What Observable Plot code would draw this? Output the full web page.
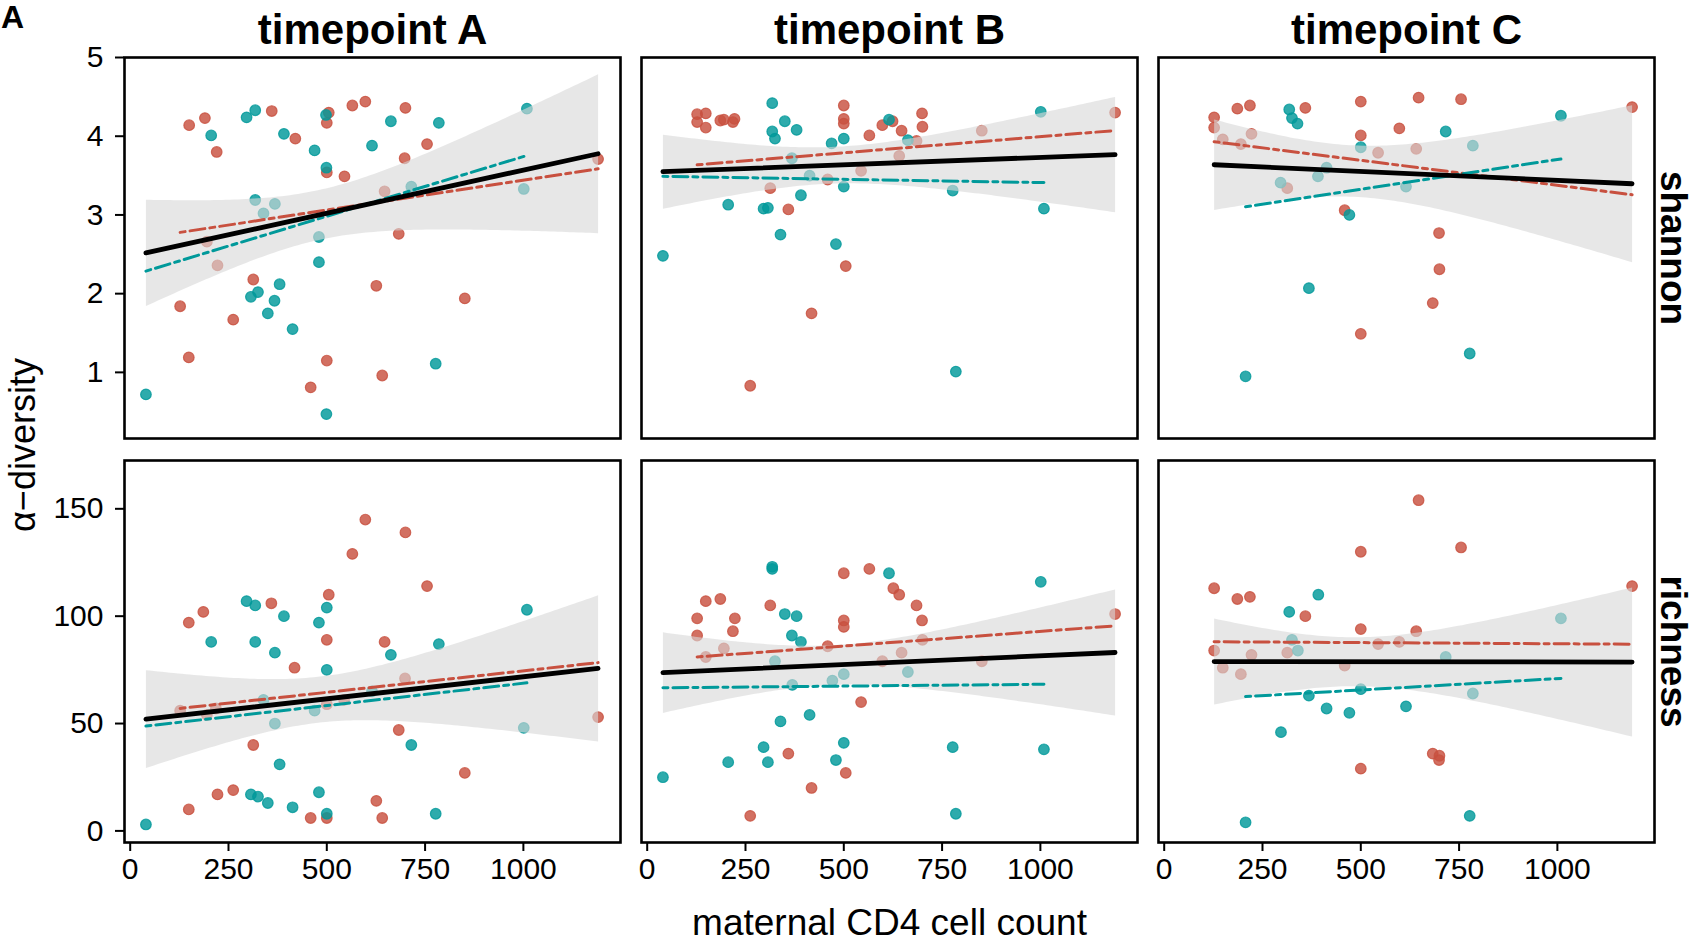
<!DOCTYPE html>
<html>
<head>
<meta charset="utf-8">
<script src="https://cdn.jsdelivr.net/npm/d3@7"></script>
<script src="https://cdn.jsdelivr.net/npm/@observablehq/plot@0.6"></script>
<style>
  body { margin: 0; background: #fff; }
  #wrap { position: relative; width: 1696px; height: 944px; overflow: hidden; font-family: "Liberation Sans", Arial, Helvetica, sans-serif; }
  #top, #bottom { position: absolute; left: 0; }
  #top { top: 0; }
  #bottom { top: 440px; }
  #over { position: absolute; left: 0; top: 0; pointer-events: none; }
</style>
</head>
<body>
<div id="wrap">
  <div id="top"></div>
  <div id="bottom"></div>
  <svg id="over" width="1696" height="944" font-family="Liberation Sans, Arial, Helvetica, sans-serif">
    <text x="1" y="28" font-size="32" font-weight="bold">A</text>
    <text transform="translate(35,445) rotate(-90)" text-anchor="middle" font-size="36">α−diversity</text>
  </svg>
</div>
<script>
// ---- categories ----
const timepoints = ["timepoint A", "timepoint B", "timepoint C"];
const groups = ["group 1", "group 2"];          // red, teal
const groupColors = ["#c8503f", "#00999a"];
const xTicks = [0, 250, 500, 750, 1000];
const shannonTicks = [1, 2, 3, 4, 5];
const richnessTicks = [0, 50, 100, 150];
const xLabel = "maternal CD4 cell count";

// ---- shannon: [maternal CD4, value] ----
const shannonA_g1 = [[150,4.14],[190,4.23],[220,3.80],[360,4.32],[420,3.97],[500,4.17],[505,4.30],[500,3.54],[545,3.49],[565,4.39],[598,4.44],[700,4.36],[698,3.72],[755,3.90],[647,3.30],[683,2.76],[1190,3.71],[195,2.66],[222,2.36],[313,2.18],[127,1.84],[626,2.10],[851,1.94],[262,1.67],[149,1.19],[500,1.15],[641,0.96],[459,0.81]];
const shannonA_g2 = [[40,0.72],[206,4.01],[296,4.24],[318,4.33],[391,4.03],[469,3.82],[498,4.27],[499,3.60],[615,3.88],[663,4.19],[785,4.17],[1009,4.35],[1001,3.33],[715,3.36],[318,3.19],[339,3.02],[368,3.14],[480,2.72],[480,2.40],[380,2.12],[307,1.96],[325,2.02],[367,1.91],[350,1.75],[413,1.55],[777,1.11],[499,0.47]];
const shannonB_g1 = [[127,4.28],[149,4.29],[127,4.18],[149,4.11],[186,4.20],[195,4.21],[222,4.22],[218,4.18],[500,4.39],[500,4.22],[500,4.16],[598,4.14],[624,4.19],[647,4.07],[699,4.29],[700,4.12],[565,4.01],[685,3.94],[851,4.07],[1190,4.30],[641,3.75],[544,3.56],[459,3.45],[313,3.34],[359,3.07],[505,2.35],[418,1.75],[262,0.83]];
const shannonB_g2 = [[40,2.48],[206,3.13],[296,3.08],[307,3.09],[318,4.42],[318,4.06],[325,3.97],[350,4.19],[380,4.08],[368,3.72],[413,3.50],[391,3.25],[339,2.75],[469,3.91],[500,3.97],[500,3.36],[480,2.63],[615,4.21],[663,3.95],[777,3.31],[785,1.01],[1001,4.31],[1009,3.08]];
const shannonC_g1 = [[127,4.24],[127,4.11],[149,3.96],[186,4.35],[218,4.39],[195,3.90],[222,4.03],[359,4.36],[313,3.34],[500,4.44],[500,4.01],[459,3.06],[544,3.79],[598,4.10],[647,4.49],[641,3.84],[755,4.47],[1190,4.37],[699,2.77],[700,2.31],[683,1.88],[500,1.49]];
const shannonC_g2 = [[318,4.34],[325,4.23],[339,4.16],[500,3.86],[413,3.60],[391,3.49],[296,3.41],[615,3.36],[716,4.06],[785,3.88],[1009,4.26],[471,3.00],[368,2.07],[777,1.24],[207,0.95]];

// ---- richness: [maternal CD4, value] ----
const richnessA_g1 = [[598,145],[700,139],[565,129],[755,114],[505,110],[359,106],[186,102],[149,97],[500,89],[647,88],[418,76],[699,71],[544,61],[500,59],[218,57],[127,56],[195,54],[1190,53],[683,47],[313,40],[851,27],[262,19],[222,17],[149,10],[626,14],[459,6],[500,6],[641,6]];
const richnessA_g2 = [[40,3],[296,107],[318,105],[391,100],[500,104],[480,97],[206,88],[318,88],[368,83],[500,75],[663,82],[785,87],[1009,103],[339,61],[615,65],[469,56],[368,50],[1001,48],[715,40],[380,31],[307,17],[325,16],[350,13],[413,11],[480,18],[500,8],[777,8]];
const richnessB_g1 = [[500,120],[565,122],[626,113],[641,110],[685,105],[699,98],[700,89],[149,107],[186,108],[127,99],[223,99],[218,93],[127,91],[313,105],[500,98],[500,95],[195,85],[149,81],[459,86],[598,79],[647,83],[851,79],[1190,101],[544,60],[359,36],[505,27],[418,20],[262,7]];
const richnessB_g2 = [[40,25],[206,32],[296,39],[307,32],[318,123],[318,122],[350,101],[380,100],[368,91],[391,88],[325,79],[369,68],[471,70],[500,73],[339,51],[413,54],[500,41],[480,33],[615,120],[663,74],[777,39],[785,8],[1001,116],[1009,38]];
const richnessC_g1 = [[647,154],[755,132],[500,130],[127,113],[1190,114],[186,108],[218,109],[359,100],[500,94],[641,93],[544,87],[598,88],[127,84],[222,82],[313,83],[149,76],[195,73],[459,77],[683,36],[700,35],[699,33],[500,29]];
const richnessC_g2 = [[392,110],[318,102],[325,89],[340,84],[716,81],[1009,99],[500,66],[785,64],[368,63],[413,57],[471,55],[615,58],[297,46],[777,7],[207,4]];

// ---- build tables ----
const rows = (tp, grp, pts) => pts.map(([x, y]) => ({tp, grp, x, y}));
const shannon = [
  ...rows(timepoints[0], groups[0], shannonA_g1), ...rows(timepoints[0], groups[1], shannonA_g2),
  ...rows(timepoints[1], groups[0], shannonB_g1), ...rows(timepoints[1], groups[1], shannonB_g2),
  ...rows(timepoints[2], groups[0], shannonC_g1), ...rows(timepoints[2], groups[1], shannonC_g2)
];
const richness = [
  ...rows(timepoints[0], groups[0], richnessA_g1), ...rows(timepoints[0], groups[1], richnessA_g2),
  ...rows(timepoints[1], groups[0], richnessB_g1), ...rows(timepoints[1], groups[1], richnessB_g2),
  ...rows(timepoints[2], groups[0], richnessC_g1), ...rows(timepoints[2], groups[1], richnessC_g2)
];

const FONT = "Liberation Sans, Arial, Helvetica, sans-serif";

function panelRow(data, yDomain, yTicks, rowLabel, o) {
  return Plot.plot({
    width: 1696, height: o.height,
    marginLeft: 124, marginRight: 42, marginTop: o.mt, marginBottom: o.mb,
    style: {fontFamily: FONT, fontSize: "30px", background: "transparent", overflow: "visible", color: "#000"},
    fx: {domain: timepoints, paddingInner: 21 / 517, paddingOuter: 0, axis: null, label: null},
    x: {domain: [-14.5, 1247], axis: null},
    y: {domain: yDomain, axis: null},
    color: {domain: groups, range: groupColors},
    marks: [
      Plot.dot(data, {fx: "tp", x: "x", y: "y", fill: "grp", stroke: "grp", r: 5.3,
        fillOpacity: 0.82, strokeOpacity: 0.82, strokeWidth: 1.2}),
      Plot.linearRegressionY(data, {fx: "tp", x: "x", y: "y", fill: "#d9d9d9", fillOpacity: 0.62,
        stroke: "none", ci: 0.95}),
      Plot.linearRegressionY(data, {fx: "tp", x: "x", y: "y", stroke: "grp", ci: 0,
        strokeWidth: 3, strokeDasharray: "5,5,15,5"}),
      Plot.linearRegressionY(data, {fx: "tp", x: "x", y: "y", stroke: "#000", ci: 0, strokeWidth: 4.8}),
      Plot.frame({stroke: "#000", strokeWidth: 2.6}),
      Plot.axisY({ticks: yTicks, tickSize: 9, tickPadding: 12, fontSize: 30, strokeWidth: 2, label: null, tickFormat: "d"}),
      Plot.text([{tp: timepoints[2], t: rowLabel}], {fx: "tp", text: "t", frameAnchor: "right", dx: 18,
        rotate: 90, textAnchor: "middle", lineAnchor: "middle", fontSize: 37, fontWeight: "bold"}),
      ...o.extra
    ]
  });
}

const topPlot = panelRow(shannon, [0.16, 5.0], shannonTicks, "shannon", {
  height: 440, mt: 57, mb: 2,
  extra: [
    Plot.axisFx({anchor: "top", tickSize: 0, tickPadding: 14, fontSize: 42, fontWeight: "bold", label: null})
  ]
});

const bottomPlot = panelRow(richness, [-5.4, 172.5], richnessTicks, "richness", {
  height: 504, mt: 20, mb: 102,
  extra: [
    Plot.axisX({ticks: xTicks, tickSize: 9, tickPadding: 6, fontSize: 30, strokeWidth: 2, label: null, tickFormat: "d"}),
    Plot.text([{tp: timepoints[1], t: xLabel}], {fx: "tp", text: "t", frameAnchor: "bottom", dy: 92,
      lineAnchor: "bottom", fontSize: 37})
  ]
});

document.getElementById("top").appendChild(topPlot);
document.getElementById("bottom").appendChild(bottomPlot);
</script>
</body>
</html>
